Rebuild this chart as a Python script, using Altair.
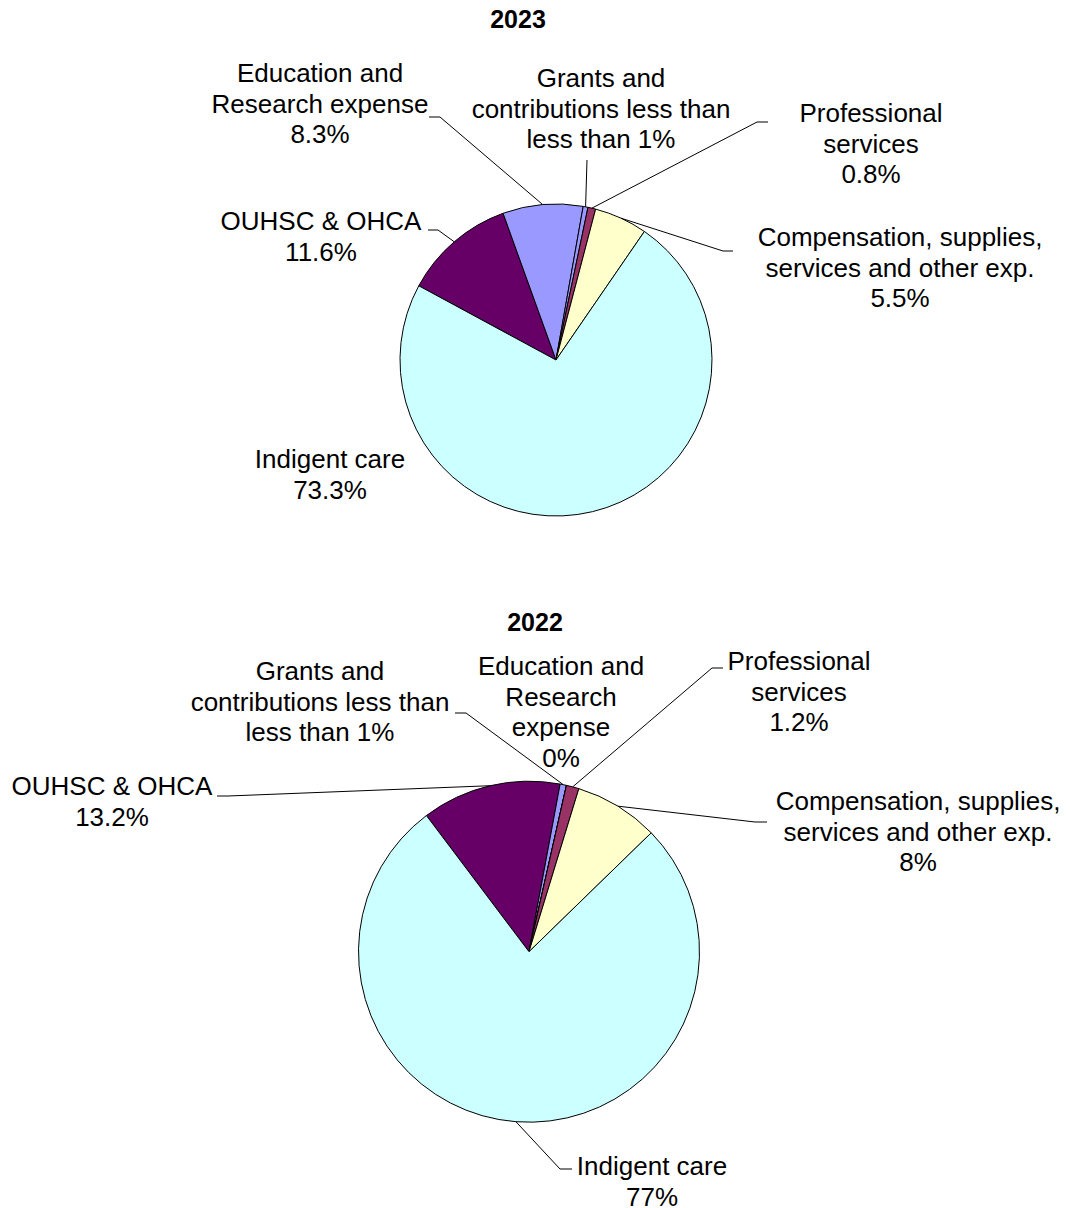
import math
import altair as alt
import pandas as pd

# ---------------- data ----------------
categories = [
    "OUHSC & OHCA",
    "Education and Research expense",
    "Grants and contributions",
    "Professional services",
    "Compensation, supplies, services and other exp.",
    "Indigent care",
]
slice_colors = ["#660066", "#9999FF", "#9999FF", "#993366", "#FFFFCC", "#CCFFFF"]

order_2023 = [
    "OUHSC & OHCA",
    "Education and Research expense",
    "Grants and contributions",
    "Professional services",
    "Compensation, supplies, services and other exp.",
    "Indigent care",
]
values_2023 = [11.6, 8.3, 0.5, 0.8, 5.5, 73.3]
labels_2023 = [
    "OUHSC & OHCA\n11.6%",
    "Education and\nResearch expense\n8.3%",
    "Grants and\ncontributions less than\nless than 1%",
    "Professional\nservices\n0.8%",
    "Compensation, supplies,\nservices and other exp.\n5.5%",
    "Indigent care\n73.3%",
]

order_2022 = [
    "OUHSC & OHCA",
    "Grants and contributions",
    "Education and Research expense",
    "Professional services",
    "Compensation, supplies, services and other exp.",
    "Indigent care",
]
values_2022 = [13.2, 0.6, 0.0, 1.2, 8.0, 77.0]
labels_2022 = [
    "OUHSC & OHCA\n13.2%",
    "Grants and\ncontributions less than\nless than 1%",
    "Education and\nResearch\nexpense\n0%",
    "Professional\nservices\n1.2%",
    "Compensation, supplies,\nservices and other exp.\n8%",
    "Indigent care\n77%",
]

titles = ["2023", "2022"]

# ---------------- layout (page pixel units) ----------------
M = 8
W, H = 1054, 1200
FONT = "Liberation Sans"
pie_2023 = {"cx": 556, "cy": 360, "r": 156, "start": -61.6}
pie_2022 = {"cx": 529, "cy": 951.7, "r": 170.5, "start": -37.0}
# (label centre x, first baseline y, leader elbow points or None)
place_2023 = [
    (321, 230, [(428, 230), (438, 230)]),
    (320, 82, [(429, 117), (440, 117)]),
    (601, 87, [(587, 160)]),
    (871, 122, [(768, 122), (757, 122)]),
    (900, 246, [(733, 251), (723, 251)]),
    (330, 468, None),
]
place_2022 = [
    (112, 795, [(217, 796), (228, 796)]),
    (320, 680, [(455, 713), (466, 713)]),
    (561, 675, None),
    (799, 670, [(723, 668), (712, 668)]),
    (918, 810, [(767, 822), (755, 822)]),
    (652, 1175, [(572, 1169), (560, 1169)]),
]
title_pos = [(518, 28), (535, 631)]

xs = alt.Scale(domain=[M, M + W])
ys = alt.Scale(domain=[M, M + H], reverse=True)
color_scale = alt.Scale(domain=categories, range=slice_colors)


def build(order, values, labels, pie, place, key):
    rows, leaders, texts = [], [], []
    acc = 0.0
    for i, (cat, v, lab, (tx, ty, pts)) in enumerate(zip(order, values, labels, place)):
        mid = math.radians(pie["start"] + (acc + v / 2.0) * 3.6)
        acc += v
        ex = pie["cx"] + pie["r"] * math.sin(mid)
        ey = pie["cy"] - pie["r"] * math.cos(mid)
        rows.append({"cat": cat, "value": v, "ord": i})
        texts.append({"label": lab, "tx": tx, "ty": ty})
        if pts:
            for j, (px, py) in enumerate(list(pts) + [(ex, ey)]):
                leaders.append({"line": f"{key}-{i}", "k": j, "lx": px, "ly": py})
    s = math.radians(pie["start"])
    arc = alt.Chart(pd.DataFrame(rows)).mark_arc(
        radius=pie["r"], stroke="black", strokeWidth=1
    ).encode(
        theta=alt.Theta("value:Q", stack=True,
                        scale=alt.Scale(domain=[0, 100], range=[s, s + 2 * math.pi])),
        order=alt.Order("ord:Q"),
        color=alt.Color("cat:N", scale=color_scale, legend=None),
        x=alt.XDatum(pie["cx"], scale=xs, axis=None),
        y=alt.YDatum(pie["cy"], scale=ys, axis=None),
    )
    lead = alt.Chart(pd.DataFrame(leaders)).mark_line(
        color="black", strokeWidth=1
    ).encode(
        x=alt.X("lx:Q", scale=xs, axis=None),
        y=alt.Y("ly:Q", scale=ys, axis=None),
        detail="line:N",
        order="k:Q",
    )
    txt = alt.Chart(pd.DataFrame(texts)).mark_text(
        align="center", baseline="alphabetic", lineBreak="\n",
        font=FONT, fontSize=26, lineHeight=30.5, color="black"
    ).encode(
        x=alt.X("tx:Q", scale=xs, axis=None),
        y=alt.Y("ty:Q", scale=ys, axis=None),
        text="label:N",
    )
    return [arc, lead, txt]


layers = []
layers += build(order_2023, values_2023, labels_2023, pie_2023, place_2023, "a")
layers += build(order_2022, values_2022, labels_2022, pie_2022, place_2022, "b")

title_df = pd.DataFrame({"t": titles, "tx": [p[0] for p in title_pos], "ty": [p[1] for p in title_pos]})
title_layer = alt.Chart(title_df).mark_text(
    align="center", baseline="alphabetic", font=FONT, fontSize=25, fontWeight="bold", color="black"
).encode(
    x=alt.X("tx:Q", scale=xs, axis=None),
    y=alt.Y("ty:Q", scale=ys, axis=None),
    text="t:N",
)
layers.append(title_layer)

chart = alt.layer(*layers).resolve_scale(theta="independent").properties(
    width=W, height=H, autosize="none", padding=0
).configure_view(stroke=None)

chart.save("out.html", embed_options={"renderer": "svg", "actions": False})
